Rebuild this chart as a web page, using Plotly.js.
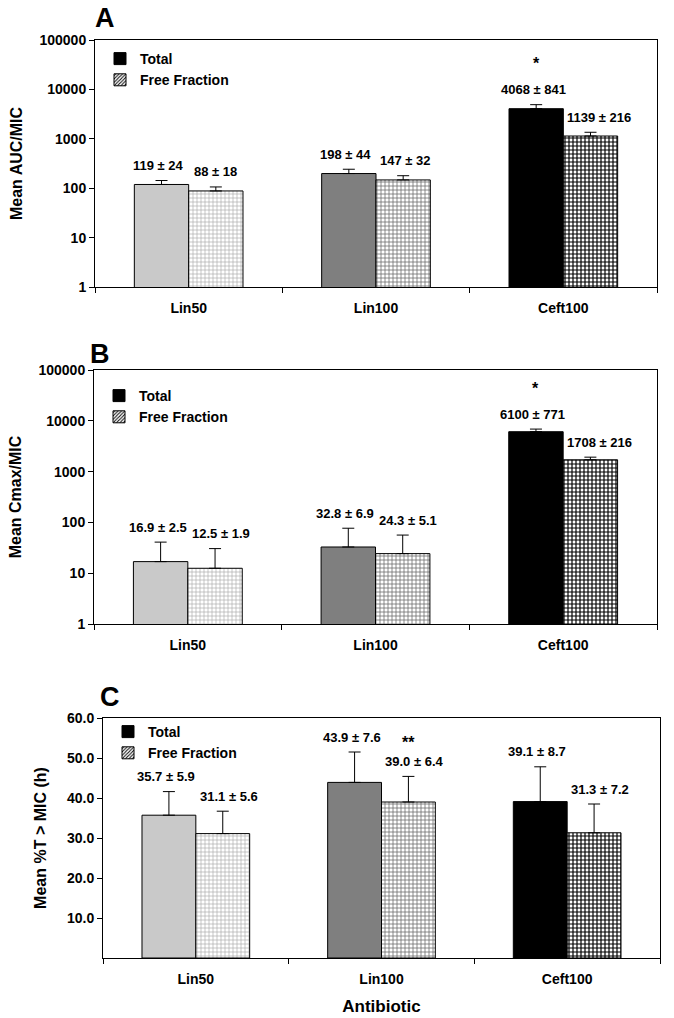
<!DOCTYPE html>
<html><head><meta charset="utf-8">
<script src="https://cdn.plot.ly/plotly-3.0.1.min.js"></script>
<style>html,body{margin:0;padding:0;background:#fff}</style>
</head><body><div id="chart" style="width:674px;height:1018px"></div>
<script>
// ---------------- data ----------------
const categories = ['Lin50', 'Lin100', 'Ceft100'];
const seriesNames = ['Total', 'Free Fraction'];

// Panel A - Mean AUC/MIC
const aucTotal = [119, 198, 4068];
const aucTotalSD = [24, 44, 841];
const aucFree = [88, 147, 1139];
const aucFreeSD = [18, 32, 216];

// Panel B - Mean Cmax/MIC
const cmaxTotal = [16.9, 32.8, 6100];
const cmaxTotalSD = [2.5, 6.9, 771];
const cmaxFree = [12.5, 24.3, 1708];
const cmaxFreeSD = [1.9, 5.1, 216];
// error bar lengths as drawn in the original panel B
const cmaxTotalErr = [24, 44, 771];
const cmaxFreeErr = [18, 32, 216];

// Panel C - Mean %T > MIC (h)
const tmicTotal = [35.7, 43.9, 39.1];
const tmicTotalSD = [5.9, 7.6, 8.7];
const tmicFree = [31.1, 39.0, 31.3];
const tmicFreeSD = [5.6, 6.4, 7.2];

// tick labels
const logTickVals = [1, 10, 100, 1000, 10000, 100000];
const logTickText = ['1', '10', '100', '1000', '10000', '100000'];
const linTickVals = [10, 20, 30, 40, 50, 60];
const linTickText = ['10.0', '20.0', '30.0', '40.0', '50.0', '60.0'];

// significance marks
const sigPanel = [0, 1, 2];
const sigCategory = ['Ceft100', 'Ceft100', 'Lin100'];
const sigSeries = [0, 0, 1];
const sigText = ['*', '*', '**'];

// ---------------- layout / style ----------------
const W = 674, H = 1018;
const FAMILY = 'Liberation Sans, Arial, sans-serif';
const BOLD = {family: FAMILY, weight: 'bold', color: '#000'};
const LABEL_SIZE = 13;
const totalColors = ['#c9c9c9', '#7f7f7f', '#000000'];
const freeFg = ['#a9a9a9', '#6a6a6a', '#000000'];
const freeSolidity = [0.3, 0.35, 0.5];
const BARGAP = 0.42;

const fmtInt = v => String(v);
const fmt1 = v => v.toFixed(1);

// text measuring, used to keep value labels clear of the neighbouring bar
const ctx = document.createElement('canvas').getContext('2d');
ctx.font = 'bold ' + LABEL_SIZE + 'px "Liberation Sans", Arial, sans-serif';
const textW = t => ctx.measureText(t).width;

const panels = [
  {letter: 'A', title: 'Mean AUC/MIC', log: true,
   total: aucTotal, totalErr: aucTotalSD, totalSD: aucTotalSD,
   free: aucFree, freeErr: aucFreeSD, freeSD: aucFreeSD, fmt: fmtInt,
   box: {l: 95, r: 657, t: 40, b: 287}, letterPos: [105, 18], legendTop: 43, standoff: 12, sigShift: 41},
  {letter: 'B', title: 'Mean Cmax/MIC', log: true,
   total: cmaxTotal, totalErr: cmaxTotalErr, totalSD: cmaxTotalSD,
   free: cmaxFree, freeErr: cmaxFreeErr, freeSD: cmaxFreeSD, fmt: fmtInt,
   box: {l: 94, r: 657, t: 370, b: 624}, letterPos: [100, 354], legendTop: 380, standoff: 12, sigShift: 41},
  {letter: 'C', title: 'Mean %T > MIC (h)', log: false,
   total: tmicTotal, totalErr: tmicTotalSD, totalSD: tmicTotalSD,
   free: tmicFree, freeErr: tmicFreeSD, freeSD: tmicFreeSD, fmt: fmt1,
   box: {l: 103, r: 660, t: 718, b: 958}, letterPos: [110, 697], legendTop: 716, standoff: 16, sigShift: 34}
];

const traces = [];
const annotations = [];
const layout = {
  width: W, height: H,
  margin: {l: 0, r: 0, t: 0, b: 0},
  paper_bgcolor: '#fff', plot_bgcolor: '#fff',
  barmode: 'group', bargap: BARGAP, bargroupgap: 0,
  showlegend: true,
  annotations: annotations
};

panels.forEach((p, i) => {
  const sfx = i === 0 ? '' : String(i + 1);
  const xr = 'x' + sfx, yr = 'y' + sfx;
  const legendKey = 'legend' + sfx;
  const zeros = categories.map(() => 0);

  traces.push({
    type: 'bar', name: seriesNames[0], x: categories, y: p.total,
    xaxis: xr, yaxis: yr, offsetgroup: 'total', showlegend: false,
    marker: {color: totalColors, line: {color: '#000', width: 1}},
    error_y: {type: 'data', array: p.totalErr, arrayminus: zeros, symmetric: false,
              color: '#000', thickness: 1, width: 6},
    hoverinfo: 'x+y'
  });
  traces.push({
    type: 'bar', name: seriesNames[1], x: categories, y: p.free,
    xaxis: xr, yaxis: yr, offsetgroup: 'free', showlegend: false,
    marker: {color: '#fff', line: {color: '#000', width: 1},
             pattern: {shape: '+', fillmode: 'replace', bgcolor: '#fff', fgcolor: freeFg,
                       size: 4, solidity: freeSolidity}},
    error_y: {type: 'data', array: p.freeErr, arrayminus: zeros, symmetric: false,
              color: '#000', thickness: 1, width: 6},
    hoverinfo: 'x+y'
  });
  // legend entries
  traces.push({
    type: 'bar', name: seriesNames[0], x: [categories[0]], y: [null],
    xaxis: xr, yaxis: yr, offsetgroup: 'total', legend: legendKey, legendgroup: 'g1' + i,
    marker: {color: '#000', line: {color: '#000', width: 1}}, hoverinfo: 'skip'
  });
  traces.push({
    type: 'bar', name: seriesNames[1], x: [categories[0]], y: [null],
    xaxis: xr, yaxis: yr, offsetgroup: 'free', legend: legendKey, legendgroup: 'g2' + i,
    marker: {color: '#fff', line: {color: '#000', width: 1},
             pattern: {shape: '/', fillmode: 'replace', bgcolor: '#fff', fgcolor: '#000', size: 3, solidity: 0.4}},
    hoverinfo: 'skip'
  });

  const b = p.box;
  layout['xaxis' + sfx] = {
    domain: [b.l / W, b.r / W], anchor: yr, type: 'category',
    categoryorder: 'array', categoryarray: categories,
    showline: true, linecolor: '#000', linewidth: 1, mirror: true,
    ticks: 'outside', tickson: 'boundaries', ticklen: 5, tickcolor: '#000',
    ticklabelstandoff: 8,
    tickfont: Object.assign({size: 14}, BOLD), showgrid: false, zeroline: false,
    title: i === 2 ? {text: 'Antibiotic', font: Object.assign({size: 17}, BOLD), standoff: 14} : undefined
  };
  const ya = {
    domain: [1 - b.b / H, 1 - b.t / H], anchor: xr,
    showline: true, linecolor: '#000', linewidth: 1, mirror: true,
    ticks: 'outside', ticklen: 5, tickcolor: '#000',
    tickfont: Object.assign({size: 14}, BOLD), showgrid: false, zeroline: false,
    title: {text: p.title, font: Object.assign({size: 16}, BOLD), standoff: p.standoff}
  };
  if (p.log) {
    Object.assign(ya, {type: 'log', range: [0, 5], tickvals: logTickVals, ticktext: logTickText});
  } else {
    Object.assign(ya, {type: 'linear', range: [0, 60], tickvals: linTickVals, ticktext: linTickText});
  }
  layout['yaxis' + sfx] = ya;

  layout[legendKey] = {
    x: (b.l + 5) / W, y: 1 - p.legendTop / H, xanchor: 'left', yanchor: 'top',
    xref: 'paper', yref: 'paper', bgcolor: 'rgba(0,0,0,0)', borderwidth: 0,
    font: Object.assign({size: 14}, BOLD), itemwidth: 30, tracegroupgap: 5, traceorder: 'normal'
  };

  // panel letter
  annotations.push({
    xref: 'paper', yref: 'paper', x: p.letterPos[0] / W, y: 1 - p.letterPos[1] / H,
    text: p.letter, showarrow: false, xanchor: 'center', yanchor: 'middle',
    font: Object.assign({size: 27}, BOLD)
  });

  // value labels
  const catPx = (b.r - b.l) / categories.length;
  const barW = catPx * (1 - BARGAP) / 2;
  const barOff = barW / 2;
  const yVal = v => p.log ? Math.log10(v) : v;
  const series = [
    {vals: p.total, err: p.totalErr, sd: p.totalSD, center: -barOff},
    {vals: p.free, err: p.freeErr, sd: p.freeSD, center: barOff}
  ];
  series.forEach((s, si) => {
    categories.forEach((c, k) => {
      const txt = p.fmt(s.vals[k]) + ' ± ' + p.fmt(s.sd[k]);
      const clamp = Math.max(0, textW(txt) / 2 - barW / 2 + 4);
      const shift = si === 0 ? s.center - 3 : s.center + clamp;
      annotations.push({
        xref: xr, yref: yr, x: c, y: yVal(s.vals[k] + s.err[k]),
        xshift: shift, yshift: 15, yanchor: 'middle', xanchor: 'center',
        text: txt, showarrow: false,
        font: Object.assign({size: LABEL_SIZE}, BOLD)
      });
    });
  });

  // significance marks
  sigPanel.forEach((pi, j) => {
    if (pi !== i) return;
    const s = series[sigSeries[j]];
    const k = categories.indexOf(sigCategory[j]);
    annotations.push({
      xref: xr, yref: yr, x: sigCategory[j], y: yVal(s.vals[k] + s.err[k]),
      xshift: s.center, yshift: p.sigShift, yanchor: 'middle', xanchor: 'center',
      text: sigText[j], showarrow: false, font: Object.assign({size: 16}, BOLD)
    });
  });
});

Plotly.newPlot('chart', traces, layout, {displayModeBar: false, staticPlot: true});
</script>
</body></html>
